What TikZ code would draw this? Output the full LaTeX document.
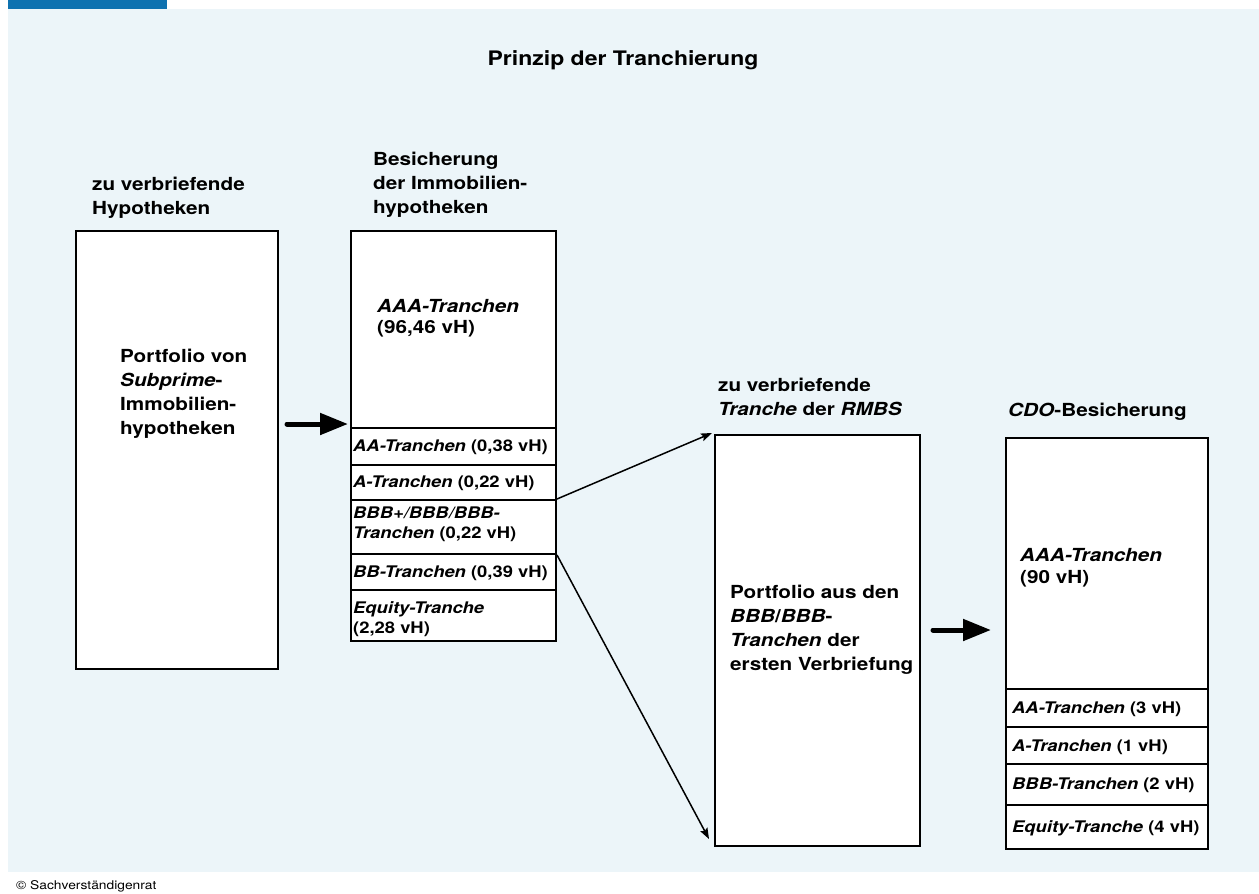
\documentclass[tikz,border=0pt]{standalone}
\usepackage{fontspec}
\setmainfont{TeX Gyre Heros}[FakeStretch=1.15]
\usetikzlibrary{arrows.meta}
\definecolor{bgblue}{HTML}{ECF5F9}
\definecolor{barblue}{HTML}{0E72B0}
\begin{document}
\begin{tikzpicture}[x=1pt,y=-1pt,
 box/.style={draw, line width=2pt, fill=white, inner sep=0, anchor=north west},
 lbl/.style={font=\bfseries\fontsize{18}{24}\selectfont, anchor=base west, inner sep=0, align=left},
 rowtxt/.style={font=\bfseries\fontsize{16}{20}\selectfont, anchor=base west, inner sep=0, align=left},
 bigarrow/.style={line width=5pt, line cap=round, -{Triangle[length=28pt,width=21pt]}},
 thinarrow/.style={line width=1.5pt, -{Stealth[length=11pt,width=8pt,inset=2pt]}}]
\useasboundingbox (0,0) rectangle (1259,894);
\fill[bgblue] (8,9) rectangle (1259,872);
\fill[barblue] (8,0) rectangle (167,9);
\node[font=\bfseries\fontsize{20}{24}\selectfont, anchor=base, inner sep=0] (title) at (623,65) {Prinzip der Tranchierung};
% box 1
\node[lbl] (l1) at (92,214) {zu verbriefende\\Hypotheken};
\node[box, minimum width=202pt, minimum height=438pt] (b1) at (75,230) {};
\node[lbl] (t1) at (120,434) {Portfolio von\\\textit{Subprime}-\\Immobilien-\\hypotheken};
% box 2
\node[lbl] (l2) at (373,213) {Besicherung\\der Immobilien-\\hypotheken};
\node[box, minimum width=205pt, minimum height=197pt] (b2aaa) at (350,230) {};
\node[box, minimum width=205pt, minimum height=37pt] (b2aa) at (350,427) {};
\node[box, minimum width=205pt, minimum height=35pt] (b2a) at (350,464) {};
\node[box, minimum width=205pt, minimum height=54pt] (b2bbb) at (350,499) {};
\node[box, minimum width=205pt, minimum height=36pt] (b2bb) at (350,553) {};
\node[box, minimum width=205pt, minimum height=51pt] (b2eq) at (350,589) {};
\node[lbl, font=\bfseries\fontsize{18}{21}\selectfont] (t2) at (377,333) {\textit{AAA-Tranchen}\\(96,46 vH)};
\node[rowtxt] (r2aa) at (353,451) {\textit{AA-Tranchen} (0,38 vH)};
\node[rowtxt] (r2a) at (353,487) {\textit{A-Tranchen} (0,22 vH)};
\node[rowtxt] (r2bbb) at (353,538) {\textit{BBB+/BBB/BBB-}\\\textit{Tranchen} (0,22 vH)};
\node[rowtxt] (r2bb) at (353,577) {\textit{BB-Tranchen} (0,39 vH)};
\node[rowtxt] (r2eq) at (353,633) {\textit{Equity-Tranche}\\(2,28 vH)};
% box 3
\node[lbl] (l3) at (718,415) {zu verbriefende\\\textit{Tranche} der \textit{RMBS}};
\node[box, minimum width=205pt, minimum height=411pt] (b3) at (714,434) {};
\node[lbl] (t3) at (730,670) {Portfolio aus den\\\textit{BBB}/\textit{BBB}-\\\textit{Tranchen} der\\ersten Verbriefung};
% box 4
\node[lbl] (l4) at (1008,416) {\textit{CDO}-Besicherung};
\node[box, minimum width=202pt, minimum height=251pt] (b4aaa) at (1005,437) {};
\node[box, minimum width=202pt, minimum height=38pt] (b4aa) at (1005,688) {};
\node[box, minimum width=202pt, minimum height=37pt] (b4a) at (1005,726) {};
\node[box, minimum width=202pt, minimum height=41pt] (b4bbb) at (1005,763) {};
\node[box, minimum width=202pt, minimum height=44pt] (b4eq) at (1005,804) {};
\node[lbl, font=\bfseries\fontsize{18}{22}\selectfont] (t4) at (1020,583) {\textit{AAA-Tranchen}\\(90 vH)};
\node[rowtxt] (r4aa) at (1012,713) {\textit{AA-Tranchen} (3 vH)};
\node[rowtxt] (r4a) at (1012,751) {\textit{A-Tranchen} (1 vH)};
\node[rowtxt] (r4bbb) at (1012,789) {\textit{BBB-Tranchen} (2 vH)};
\node[rowtxt] (r4eq) at (1012,832) {\textit{Equity-Tranche} (4 vH)};
% arrows
\coordinate (a1s) at (287,424);
\coordinate (a1e) at (348,424);
\draw[bigarrow] (a1s) -- (a1e);
\coordinate (a2s) at (933,630);
\coordinate (a2e) at (991,630);
\draw[bigarrow] (a2s) -- (a2e);
\coordinate (e1) at (712,433);
\coordinate (e2) at (709,839);
\draw[thinarrow] (b2bbb.north east) -- (e1);
\draw[thinarrow] (b2bbb.south east) -- (e2);
\node[font=\fontsize{12}{14}\selectfont, anchor=base west, inner sep=0] (copy) at (16,889) {© Sachverständigenrat};
\end{tikzpicture}
\end{document}
